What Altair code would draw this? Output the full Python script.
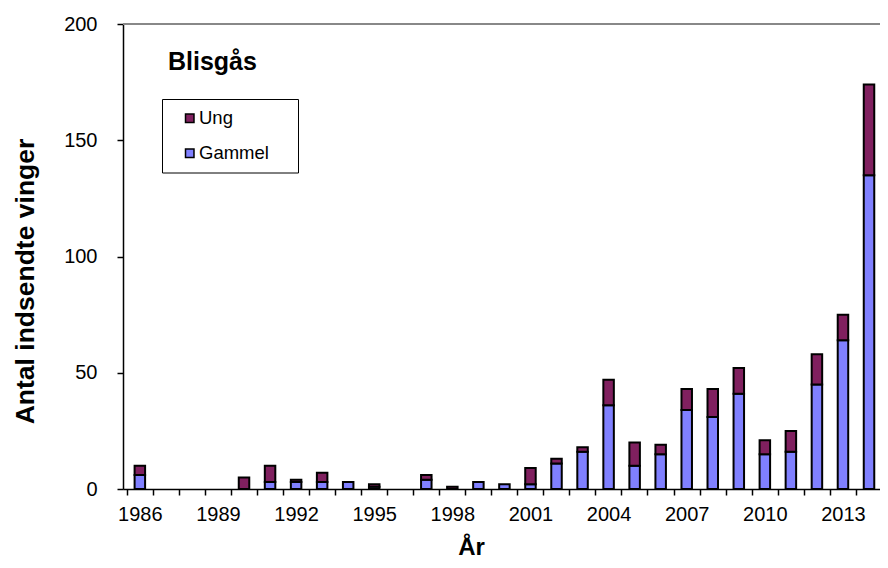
import altair as alt
import pandas as pd

years = list(range(1986, 2015))
gammel = [6, 0, 0, 0, 0, 3, 3, 3, 3, 1, 0, 4, 0, 3, 2, 2, 11, 16, 36, 10,
          15, 34, 31, 41, 15, 16, 45, 64, 135]
ung = [4, 0, 0, 0, 5, 7, 1, 4, 0, 1, 0, 2, 1, 0, 0, 7, 2, 2, 11, 10,
       4, 9, 12, 11, 6, 9, 13, 11, 39]
series = ["Ung", "Gammel"]
colors = ["#80205F", "#8080FF"]
y_ticks = [0, 50, 100, 150, 200]

rows = []
for yr, g, u in zip(years, gammel, ung):
    if g > 0:
        rows.append({"År": yr, "Alder": "Gammel", "lo": 0, "hi": g})
    if u > 0:
        rows.append({"År": yr, "Alder": "Ung", "lo": g, "hi": g + u})
df = pd.DataFrame(rows)

FONT = "Liberation Sans"
W, H = 757, 465
X0, X1 = 1985.545, 2014.23
half = W / (X1 - X0) / 2

bars = alt.Chart(df).mark_bar(size=10.5, stroke="black", strokeWidth=2, clip=True).encode(
    x=alt.X("År:Q",
            scale=alt.Scale(domain=[X0, X1], nice=False, zero=False),
            axis=alt.Axis(values=years, tickOffset=-half, labelOffset=half,
                          labelExpr="datum.value % 3 == 0 ? format(datum.value, 'd') : ''",
                          labelOverlap=False, labelFlush=False, labelBound=False,
                          labelFontSize=20, labelFont=FONT, labelColor="black",
                          labelPadding=9, tickSize=6, tickColor="black", tickWidth=1.5,
                          domainColor="black", domainWidth=1.5, grid=False,
                          title="År", titleFont=FONT, titleFontSize=24,
                          titleFontWeight="bold", titleColor="black",
                          titleX=348, titleY=65, titleAlign="center",
                          titleBaseline="alphabetic")),
    y=alt.Y("lo:Q",
            scale=alt.Scale(domain=[0, 200], nice=False),
            axis=alt.Axis(values=y_ticks, labelFontSize=20, labelFont=FONT,
                          labelColor="black", labelPadding=20, tickSize=6,
                          tickColor="black", tickWidth=1.5, domainColor="black",
                          domainWidth=1.5, grid=False,
                          title="Antal indsendte vinger", titleFont=FONT,
                          titleFontSize=26.5, titleFontWeight="bold", titleColor="black",
                          titleAngle=270, titleX=-89.5, titleY=257, titleAlign="center",
                          titleBaseline="alphabetic")),
    y2="hi:Q",
    color=alt.Color("Alder:N",
                    scale=alt.Scale(domain=series, range=colors),
                    legend=alt.Legend(title=None, orient="none", legendX=39, legendY=75,
                                      padding=10,
                                      symbolType="square", symbolSize=72,
                                      symbolStrokeColor="black", symbolStrokeWidth=1.5,
                                      symbolOffset=8.5, labelFont=FONT, labelFontSize=18.5,
                                      labelColor="black", labelOffset=0, rowPadding=16)),
)

legend_box = alt.Chart(pd.DataFrame({"k": [0]})).mark_rect(
    fill="white", stroke="black", strokeWidth=1
).encode(
    x=alt.value(39.5), x2=alt.value(175.5), y=alt.value(75.5), y2=alt.value(149)
)

top_line = alt.Chart(pd.DataFrame({"k": [0]})).mark_rule(color="#888888", strokeWidth=2).encode(
    x=alt.value(0), x2=alt.value(W), y=alt.value(0)
)

chart = alt.layer(bars, legend_box, top_line).properties(
    width=W, height=H,
    autosize=alt.AutoSizeParams(type="none"),
    padding={"left": 115, "top": 16, "right": 0, "bottom": 71},
    title=alt.TitleParams(text="Blisgås", anchor="start", frame="group", orient="top",
                          offset=0, dx=45, dy=81, fontSize=25, font=FONT,
                          fontWeight="bold", color="black", baseline="alphabetic"),
).configure_view(fill="#C0C0C0", stroke=None).configure(background="white")

chart.save("out.html", embed_options={"renderer": "svg", "actions": False})
